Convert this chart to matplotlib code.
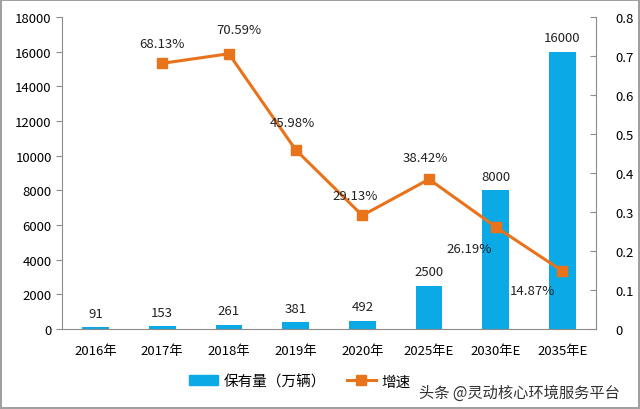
import matplotlib
matplotlib.use('Agg')
import matplotlib.pyplot as plt
from matplotlib.patches import Patch
from matplotlib.lines import Line2D

plt.rcParams['font.family'] = ['Noto Sans CJK SC', 'DejaVu Sans']

years = ['2016年', '2017年', '2018年', '2019年', '2020年', '2025年E', '2030年E', '2035年E']
stock = [91, 153, 261, 381, 492, 2500, 8000, 16000]
growth = [None, 0.6813, 0.7059, 0.4598, 0.2913, 0.3842, 0.2619, 0.1487]
growth_lbl = ['', '68.13%', '70.59%', '45.98%', '29.13%', '38.42%', '26.19%', '14.87%']

blue = '#0BA9E6'
orange = '#E8731A'
gray = '#8C8C8C'
fs = 9.5

fig = plt.figure(figsize=(6.4, 4.1), dpi=100)
fig.patch.set_edgecolor('#A0A0A0')
fig.patch.set_linewidth(1.5)
ax = fig.add_axes([0.097, 0.195, 0.834, 0.761])
x = list(range(len(years)))
ax.bar(x, stock, width=0.4, color=blue, zorder=2)
for i, v in enumerate(stock):
    ax.text(i, v + 450, str(v), ha='center', va='bottom', fontsize=fs, color='#222222')
ax.set_ylim(0, 18000)
ax.set_xlim(-0.5, len(years) - 0.5)
ax.set_yticks(range(0, 18001, 2000))
ax.set_xticks(x)
ax.set_xticklabels(years, fontsize=fs)
ax.tick_params(axis='y', labelsize=fs, length=4, color=gray, direction='out')
ax.tick_params(axis='x', length=0, pad=11)
for s in ['top', 'right']:
    ax.spines[s].set_visible(False)
for s in ['left', 'bottom']:
    ax.spines[s].set_color(gray)

ax2 = ax.twinx()
gx = [i for i in x if growth[i] is not None]
gy = [growth[i] for i in gx]
ax2.plot(gx, gy, color=orange, lw=2.2, marker='s', ms=7, zorder=3)
ax2.set_ylim(0, 0.8)
ax2.set_yticks([0, 0.1, 0.2, 0.3, 0.4, 0.5, 0.6, 0.7, 0.8])
ax2.set_yticklabels(['0', '0.1', '0.2', '0.3', '0.4', '0.5', '0.6', '0.7', '0.8'])
ax2.tick_params(axis='y', labelsize=fs, length=4, color=gray, direction='in', pad=14)
for s in ['top', 'left', 'bottom']:
    ax2.spines[s].set_visible(False)
ax2.spines['right'].set_color(gray)

offs = {1: (0.0, 0.05), 2: (0.15, 0.063), 3: (-0.05, 0.07), 4: (-0.1, 0.05),
        5: (-0.05, 0.055), 6: (-0.4, -0.055), 7: (-0.45, -0.05)}
for i in gx:
    dx, dy = offs[i]
    ax2.text(i + dx, growth[i] + dy, growth_lbl[i], ha='center', va='center',
             fontsize=fs, color='#222222')

handles = [Patch(color=blue), Line2D([], [], color=orange, lw=2.2, marker='s', ms=7)]
fig.legend(handles, ['保有量（万辆）', '增速'], loc='center left', bbox_to_anchor=(0.275, 0.068),
           ncol=2, frameon=False, fontsize=10.5, handlelength=2.0, handletextpad=0.4,
           columnspacing=1.4)
fig.text(0.655, 0.03, '头条 @灵动核心环境服务平台', fontsize=11, color='#333333')

fig.savefig('out.png', dpi=100)
